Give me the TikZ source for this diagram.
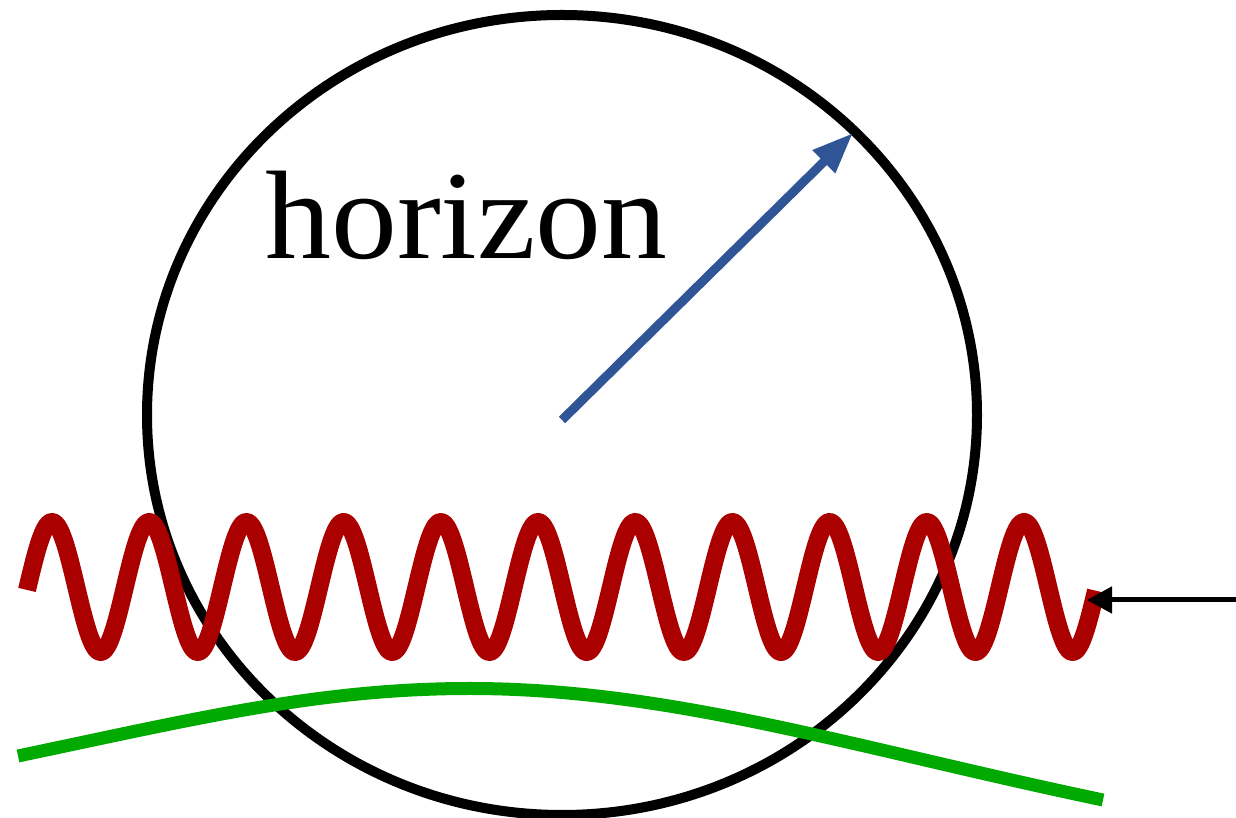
\documentclass[tikz,border=0pt]{standalone}
\usepackage{fontspec}
\setmainfont{Liberation Serif}
\usetikzlibrary{arrows.meta}
\definecolor{wavered}{RGB}{170,0,0}
\definecolor{arrowblue}{RGB}{47,85,151}
\definecolor{pathgreen}{RGB}{0,170,0}
\tikzset{
  horizonline/.style={draw=black, line width=10pt},
  radiusarrow/.style={draw=arrowblue, line width=9pt, -{Triangle[length=41pt,width=30pt]}},
  wavestyle/.style={draw=wavered, line width=18pt, line join=round},
  greenstyle/.style={draw=pathgreen, line width=13pt},
  inarrow/.style={draw=black, line width=5pt, -{Triangle[length=25pt,width=26pt]}},
  labelstyle/.style={inner sep=0pt, anchor=base, font=\fontsize{126}{130}\selectfont}
}
\begin{document}
\begin{tikzpicture}[x=1pt,y=1pt]
\useasboundingbox (0,0) rectangle (1236,818);
% horizon circle
\coordinate (c) at (562,403);
\draw[horizonline] (c) ellipse [x radius=415pt, y radius=400pt];
% radius arrow
\coordinate (o) at (562,398);
\coordinate (r) at (853,685);
\draw[radiusarrow] (o) -- (r);
% label
\node[labelstyle] (lbl) at (466.5,559) {\scalebox{1.045}[1]{horizon}};
% wave
\draw[wavestyle] plot[domain=27:1096, samples=700] (\x, {231+65*cos((\x-52)*3.7037)});
\coordinate (waveend) at (1087,218);
% green path
\coordinate (g0) at (18,62);
\coordinate (g1) at (470,129.5);
\coordinate (g2) at (1103,18);
\draw[greenstyle] (g0) .. controls (198,99.8) and (320,129.5) .. (g1)
  .. controls (670,129.5) and (853,70.5) .. (g2);
% incoming arrow
\coordinate (src) at (1236,218);
\draw[inarrow] (src) -- (waveend);
\end{tikzpicture}
\end{document}
